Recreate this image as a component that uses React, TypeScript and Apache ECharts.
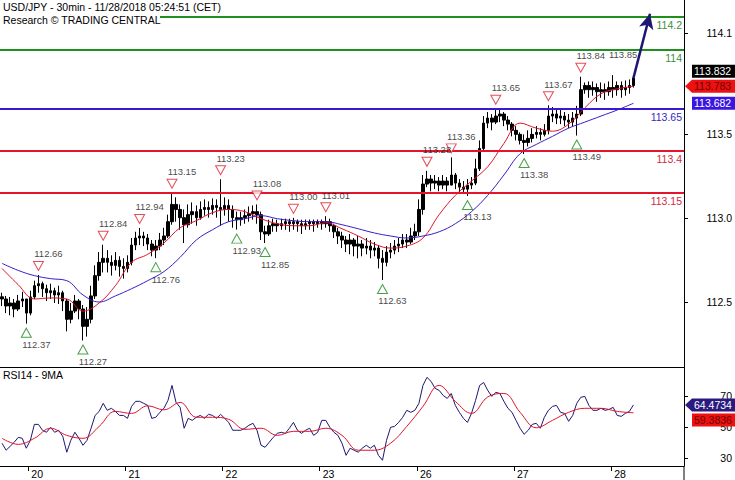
import React, { useEffect, useRef } from "react";
import * as echarts from "echarts";

const FONT = "'Liberation Sans', Arial, sans-serif";

// ---- hourly USD/JPY bars (index 0 = Nov 19, 17:00 CET) ----
const firstOpen = 112.53;
const closes = [
  112.517, 112.475, 112.493, 112.457, 112.505, 112.517, 112.433, 112.529, 112.596, 112.608,
  112.578, 112.554, 112.566, 112.541, 112.554, 112.505, 112.396, 112.445, 112.505, 112.457,
  112.354, 112.396, 112.535, 112.656, 112.735, 112.759, 112.735, 112.717, 112.747, 112.711,
  112.699, 112.735, 112.838, 112.880, 112.892, 112.880, 112.844, 112.808, 112.832, 112.868,
  112.892, 112.977, 113.080, 113.050, 113.001, 112.959, 113.019, 113.037, 113.001, 113.050,
  113.062, 113.050, 113.074, 113.062, 113.050, 113.074, 113.050, 113.001, 112.989, 113.001,
  113.013, 113.025, 113.037, 113.019, 112.917, 112.904, 112.953, 112.965, 112.953, 112.965,
  112.977, 112.965, 112.977, 112.965, 112.953, 112.965, 112.977, 112.965, 112.977, 112.965,
  112.977, 112.953, 112.917, 112.892, 112.868, 112.844, 112.868, 112.832, 112.844, 112.820,
  112.832, 112.808, 112.820, 112.759, 112.735, 112.796, 112.808, 112.832, 112.844, 112.868,
  112.856, 112.892, 112.917, 113.050, 113.201, 113.231, 113.207, 113.219, 113.195, 113.219,
  113.195, 113.255, 113.207, 113.183, 113.171, 113.195, 113.207, 113.292, 113.413, 113.564,
  113.594, 113.570, 113.606, 113.618, 113.582, 113.558, 113.521, 113.497, 113.461, 113.449,
  113.473, 113.497, 113.509, 113.497, 113.521, 113.606, 113.618, 113.594, 113.606, 113.582,
  113.570, 113.594, 113.618, 113.763, 113.788, 113.763, 113.776, 113.751, 113.763, 113.751,
  113.776, 113.763, 113.788, 113.763, 113.776, 113.788, 113.832,
];
const highs = [
  112.554, 112.535, 112.529, 112.517, 112.541, 112.560, 112.517, 112.566, 112.626, 112.660,
  112.620, 112.602, 112.608, 112.584, 112.596, 112.566, 112.517, 112.493, 112.541, 112.517,
  112.481, 112.469, 112.596, 112.717, 112.796, 112.840, 112.808, 112.777, 112.796, 112.771,
  112.759, 112.777, 112.880, 112.917, 112.940, 112.917, 112.904, 112.868, 112.868, 112.910,
  112.941, 113.019, 113.150, 113.122, 113.080, 113.050, 113.080, 113.092, 113.074, 113.098,
  113.110, 113.098, 113.116, 113.110, 113.230, 113.122, 113.110, 113.074, 113.037, 113.037,
  113.050, 113.068, 113.074, 113.080, 113.037, 112.953, 112.989, 112.995, 112.989, 112.995,
  112.995, 112.995, 113.000, 112.990, 112.989, 112.990, 112.990, 112.990, 112.990, 112.990,
  113.010, 112.995, 112.965, 112.941, 112.917, 112.892, 112.904, 112.880, 112.892, 112.868,
  112.880, 112.868, 112.856, 112.838, 112.808, 112.832, 112.850, 112.868, 112.880, 112.904,
  112.904, 112.941, 112.965, 113.110, 113.255, 113.280, 113.255, 113.255, 113.243, 113.255,
  113.243, 113.360, 113.267, 113.231, 113.219, 113.231, 113.243, 113.352, 113.461, 113.606,
  113.630, 113.618, 113.650, 113.645, 113.630, 113.606, 113.570, 113.546, 113.509, 113.497,
  113.521, 113.534, 113.546, 113.534, 113.558, 113.670, 113.660, 113.642, 113.642, 113.630,
  113.618, 113.630, 113.667, 113.840, 113.806, 113.812, 113.812, 113.800, 113.806, 113.800,
  113.812, 113.850, 113.812, 113.812, 113.818, 113.824, 113.840,
];
const lows = [
  112.475, 112.433, 112.420, 112.408, 112.445, 112.469, 112.370, 112.420, 112.517, 112.554,
  112.529, 112.505, 112.517, 112.493, 112.487, 112.445, 112.324, 112.372, 112.433, 112.396,
  112.270, 112.293, 112.372, 112.517, 112.626, 112.675, 112.675, 112.656, 112.687, 112.650,
  112.638, 112.675, 112.717, 112.808, 112.838, 112.832, 112.808, 112.771, 112.760, 112.808,
  112.838, 112.880, 112.959, 112.977, 112.929, 112.850, 112.941, 112.965, 112.953, 112.989,
  113.013, 113.001, 113.019, 113.001, 112.953, 113.013, 112.977, 112.941, 112.930, 112.953,
  112.965, 112.977, 112.989, 112.965, 112.868, 112.850, 112.892, 112.917, 112.917, 112.929,
  112.929, 112.917, 112.929, 112.917, 112.904, 112.929, 112.929, 112.917, 112.941, 112.929,
  112.941, 112.917, 112.880, 112.844, 112.820, 112.796, 112.783, 112.771, 112.759, 112.771,
  112.783, 112.759, 112.771, 112.699, 112.630, 112.711, 112.759, 112.783, 112.796, 112.820,
  112.820, 112.844, 112.868, 112.892, 113.019, 113.183, 113.158, 113.171, 113.158, 113.171,
  113.158, 113.195, 113.171, 113.146, 113.146, 113.130, 113.171, 113.195, 113.279, 113.400,
  113.534, 113.521, 113.558, 113.570, 113.546, 113.521, 113.485, 113.461, 113.437, 113.380,
  113.425, 113.449, 113.473, 113.461, 113.485, 113.497, 113.570, 113.558, 113.558, 113.546,
  113.534, 113.546, 113.490, 113.606, 113.739, 113.715, 113.727, 113.691, 113.715, 113.703,
  113.727, 113.715, 113.727, 113.715, 113.727, 113.739, 113.776,
];

// moving averages, one value every 4 bars
const maStep = 4;
const maFast = [
  112.699, 112.602, 112.517, 112.523, 112.517, 112.445, 112.493, 112.596, 112.735, 112.783,
  112.850, 112.941, 112.983, 113.031, 113.050, 113.037, 112.995, 112.965, 112.953, 112.953,
  112.971, 112.935, 112.892, 112.844, 112.820, 112.832, 112.880, 113.019, 113.134, 113.219,
  113.304, 113.443, 113.564, 113.534, 113.516, 113.558, 113.655, 113.739, 113.768, 113.783,
];
const maSlow = [
  112.729, 112.687, 112.656, 112.638, 112.626, 112.541, 112.499, 112.535, 112.578, 112.626,
  112.680, 112.765, 112.868, 112.929, 112.977, 112.995, 113.013, 112.995, 112.983, 112.977,
  112.977, 112.959, 112.935, 112.910, 112.892, 112.880, 112.892, 112.917, 112.965, 113.037,
  113.134, 113.255, 113.382, 113.437, 113.485, 113.534, 113.570, 113.606, 113.642, 113.682,
];

// RSI(14) per bar and its 9-period MA (every 4 bars)
const rsi = [
  39.7, 35.2, 37.7, 40.3, 43.5, 42.9, 36.5, 41.6, 51.9, 51.9,
  48.1, 46.8, 50.0, 46.8, 48.1, 44.2, 33.9, 41.6, 46.8, 42.9,
  38.4, 41.6, 49.4, 57.7, 60.3, 65.5, 61.0, 62.3, 60.3, 57.7,
  57.7, 55.8, 63.5, 66.8, 66.8, 65.5, 64.2, 55.8, 56.5, 59.7,
  62.3, 67.4, 77.1, 66.1, 62.9, 49.4, 55.8, 54.5, 56.5, 57.7,
  55.8, 58.4, 57.7, 55.8, 58.4, 55.8, 53.2, 48.1, 48.1, 48.1,
  49.4, 51.3, 52.6, 48.1, 38.4, 37.1, 40.3, 43.5, 46.1, 46.8,
  46.1, 49.4, 53.2, 48.1, 46.1, 48.1, 49.4, 44.8, 46.8, 54.5,
  54.5, 50.0, 46.8, 44.8, 39.7, 31.9, 36.5, 35.2, 33.9, 36.5,
  38.4, 36.5, 38.4, 31.9, 28.7, 41.6, 50.0, 50.6, 53.2, 56.5,
  61.0, 59.7, 61.0, 65.5, 77.1, 82.3, 79.7, 75.2, 73.9, 70.6,
  68.7, 71.9, 64.2, 59.7, 55.8, 53.2, 59.0, 67.4, 77.1, 79.0,
  73.9, 70.0, 72.6, 71.9, 66.8, 62.3, 59.7, 54.5, 49.4, 45.5,
  48.1, 51.9, 52.6, 49.4, 56.5, 61.0, 63.5, 64.2, 59.7, 59.0,
  53.9, 57.7, 65.5, 69.4, 70.0, 64.2, 61.0, 61.0, 62.3, 61.0,
  61.6, 62.9, 57.7, 57.1, 59.0, 60.3, 64.4734,
];
const rsiMa = [
  42.9, 39.0, 42.9, 49.4, 44.8, 42.9, 50.6, 60.3, 59.0, 63.9,
  61.3, 66.1, 56.5, 56.5, 55.2, 48.7, 49.4, 44.8, 47.4, 47.4,
  49.4, 44.8, 35.2, 35.2, 39.7, 50.6, 63.5, 77.1, 66.8, 59.0,
  69.6, 71.9, 59.7, 49.7, 54.5, 59.7, 62.3, 62.3, 60.3, 59.3836,
];

// zig-zag pivots
const pivotHighIdx = [9, 25, 34, 42, 54, 63, 72, 80, 105, 111, 122, 135, 143];
const pivotHighVal = [112.66, 112.84, 112.94, 113.15, 113.23, 113.08, 113.0, 113.01, 113.28, 113.36, 113.65, 113.67, 113.84];
const pendingHighIdx = 151;
const pendingHighVal = 113.85;
const pivotLowIdx = [6, 20, 38, 58, 65, 94, 115, 129, 142];
const pivotLowVal = [112.37, 112.27, 112.76, 112.93, 112.85, 112.63, 113.13, 113.38, 113.49];

// key levels
const levelValues = [114.2, 114.0, 113.65, 113.4, 113.15];
const levelTexts = ["114.2", "114", "113.65", "113.4", "113.15"];
const levelColors = ["#1f8f1f", "#1f8f1f", "#3a16d6", "#e3142b", "#e3142b"];
const levelTextColors = ["#3b8f3b", "#3b8f3b", "#3a2ac0", "#d22a3e", "#d22a3e"];

// projected path
const forecastFrom = [156, 113.832];
const forecastTo = [160.1, 114.215];

// axes
const dayTicks = [6.5, 30.5, 54.5, 78.5, 102.5, 126.5, 150.5];
const dayLabels = ["20", "21", "22", "23", "26", "27", "28"];
const priceTicks = [112.5, 113.0, 113.5, 114.1];
const rsiTicks = [30, 50, 70];

const lastPrice = 113.832;

export default function App() {
  const ref = useRef<HTMLDivElement>(null);

  useEffect(() => {
    if (!ref.current) return;
    const chart = echarts.init(ref.current, undefined, { renderer: "svg" });

    const candles = closes.map((c, i) => {
      const o = i === 0 ? firstOpen : closes[i - 1];
      return [i, o, c, Math.min(lows[i], o, c), Math.max(highs[i], o, c)];
    });

    const xBase: any = {
      type: "value",
      min: -0.5,
      max: 168.5,
      splitLine: { show: false },
      axisLine: { show: true, onZero: false, lineStyle: { color: "#000", width: 1 } },
    };

    const levelLines = levelValues.map((v, k) => ({
      yAxis: v,
      lineStyle: { color: levelColors[k], width: 2, type: "solid" },
      label: {
        show: true,
        formatter: levelTexts[k],
        position: "insideEndBottom",
        distance: [2, 3],
        color: levelTextColors[k],
        fontSize: 10.5,
        fontFamily: FONT,
      },
    }));

    const arrowLine = [
      { coord: forecastFrom, symbol: "none" },
      {
        coord: forecastTo,
        symbol: "arrow",
        symbolSize: [11, 15],
        lineStyle: { color: "#1e1670", width: 2.5, type: "solid" },
        label: { show: false },
      },
    ];

    const pivotLabel = (pos: string) => ({
      show: true,
      position: pos,
      distance: 2,
      offset: [10, 0],
      color: "#111",
      fontSize: 9.5,
      fontFamily: FONT,
      formatter: (p: any) => Number(p.value[1]).toFixed(2),
    });

    chart.setOption({
      animation: false,
      grid: [
        { left: 0, right: 51, top: 0, height: 367 },
        { left: 0, right: 51, top: 367, height: 99 },
      ],
      xAxis: [
        { ...xBase, gridIndex: 0, axisTick: { show: false }, axisLabel: { show: false } },
        {
          ...xBase,
          gridIndex: 1,
          axisTick: { show: true, customValues: dayTicks, length: 5, lineStyle: { color: "#000" } },
          axisLabel: {
            show: true,
            customValues: dayTicks,
            formatter: (v: number) => dayLabels[dayTicks.indexOf(v)] ?? "",
            align: "left",
            margin: 2,
            padding: [0, 0, 0, 3],
            color: "#000",
            fontSize: 10.5,
            fontFamily: FONT,
          },
        },
      ],
      yAxis: [
        {
          type: "value",
          gridIndex: 0,
          position: "right",
          min: 112.112,
          max: 114.297,
          splitLine: { show: false },
          axisLine: { show: true, onZero: false, lineStyle: { color: "#000" } },
          axisTick: { show: true, customValues: priceTicks, length: 4, lineStyle: { color: "#000" } },
          axisLabel: {
            customValues: priceTicks,
            formatter: (v: number) => v.toFixed(1),
            align: "right",
            margin: 48,
            color: "#000",
            fontSize: 10.5,
            fontFamily: FONT,
          },
        },
        {
          type: "value",
          gridIndex: 1,
          position: "right",
          min: 25,
          max: 89,
          splitLine: { show: false },
          axisLine: { show: true, onZero: false, lineStyle: { color: "#000" } },
          axisTick: { show: true, customValues: rsiTicks, length: 4, lineStyle: { color: "#000" } },
          axisLabel: {
            customValues: rsiTicks,
            formatter: (v: number) => String(v),
            align: "right",
            margin: 48,
            color: "#000",
            fontSize: 10.5,
            fontFamily: FONT,
          },
        },
      ],
      series: [
        {
          type: "candlestick",
          xAxisIndex: 0,
          yAxisIndex: 0,
          data: candles,
          barWidth: 3,
          silent: true,
          itemStyle: { color: "#000", color0: "#000", borderColor: "#000", borderColor0: "#000", borderWidth: 1 },
          markLine: {
            silent: true,
            symbol: ["none", "none"],
            animation: false,
            data: [...levelLines, arrowLine],
          },
          z: 2,
        },
        {
          type: "line",
          xAxisIndex: 0,
          yAxisIndex: 0,
          data: maFast.map((v, k) => [k * maStep, v]),
          smooth: 0.4,
          showSymbol: false,
          silent: true,
          lineStyle: { color: "#e0142c", width: 1 },
          z: 3,
        },
        {
          type: "line",
          xAxisIndex: 0,
          yAxisIndex: 0,
          data: maSlow.map((v, k) => [k * maStep, v]),
          smooth: 0.4,
          showSymbol: false,
          silent: true,
          lineStyle: { color: "#3a1ec8", width: 1 },
          z: 3,
        },
        {
          type: "scatter",
          xAxisIndex: 0,
          yAxisIndex: 0,
          silent: true,
          symbol: "path://M0,0L10,0L5,9Z",
          symbolSize: [10, 9],
          symbolOffset: [0, -9],
          itemStyle: { color: "#fff", borderColor: "#e0202e", borderWidth: 1 },
          label: pivotLabel("top"),
          data: [
            ...pivotHighIdx.map((x, k) => ({ value: [x, pivotHighVal[k]] })),
            {
              value: [pendingHighIdx, pendingHighVal],
              itemStyle: { color: "rgba(0,0,0,0)", borderColor: "rgba(0,0,0,0)" },
            },
          ],
          z: 5,
        },
        {
          type: "scatter",
          xAxisIndex: 0,
          yAxisIndex: 0,
          silent: true,
          symbol: "path://M5,0L10,9L0,9Z",
          symbolSize: [10, 9],
          symbolOffset: [0, 9],
          itemStyle: { color: "#fff", borderColor: "#1a8a1a", borderWidth: 1 },
          label: pivotLabel("bottom"),
          data: pivotLowIdx.map((x, k) => ({ value: [x, pivotLowVal[k]] })),
          z: 5,
        },
        {
          type: "line",
          xAxisIndex: 1,
          yAxisIndex: 1,
          data: rsi.map((v, i) => [i, v]),
          showSymbol: false,
          silent: true,
          lineStyle: { color: "#1e1670", width: 1 },
          z: 3,
        },
        {
          type: "line",
          xAxisIndex: 1,
          yAxisIndex: 1,
          data: rsiMa.map((v, k) => [k * maStep, v]),
          smooth: 0.4,
          showSymbol: false,
          silent: true,
          lineStyle: { color: "#e0142c", width: 1 },
          z: 4,
        },
      ],
    });

    // value tags on the right axes
    const py = (v: number, ai: number) => chart.convertToPixel({ yAxisIndex: ai } as any, v) as number;
    type Tag = { v: number; ai: number; text: string; bg: string; fg: string; arrow: boolean };
    const tagGroups: Tag[][] = [
      [
        { v: maFast[maFast.length - 1], ai: 0, text: maFast[maFast.length - 1].toFixed(3), bg: "#ee1111", fg: "#6e0000", arrow: true },
        { v: maSlow[maSlow.length - 1], ai: 0, text: maSlow[maSlow.length - 1].toFixed(3), bg: "#3a16e0", fg: "#ffffff", arrow: false },
        { v: lastPrice, ai: 0, text: lastPrice.toFixed(3), bg: "#000000", fg: "#ffffff", arrow: false },
      ],
      [
        { v: rsi[rsi.length - 1], ai: 1, text: rsi[rsi.length - 1].toFixed(4), bg: "#2a1a80", fg: "#ffffff", arrow: true },
        { v: rsiMa[rsiMa.length - 1], ai: 1, text: rsiMa[rsiMa.length - 1].toFixed(4), bg: "#ee1111", fg: "#6e0000", arrow: false },
      ],
    ];
    const ax = 684;
    const graphics: any[] = [];
    tagGroups.forEach((group) => {
      const placed: number[] = [];
      group.forEach((t) => {
        let y = py(t.v, t.ai);
        placed.forEach((p) => {
          if (Math.abs(y - p) < 14) y = y < p ? p - 15 : p + 15;
        });
        placed.push(y);
        const pts = t.arrow
          ? [[ax + 1, y], [ax + 8, y - 6.5], [735, y - 6.5], [735, y + 6.5], [ax + 8, y + 6.5]]
          : [[ax + 8, y - 6.5], [735, y - 6.5], [735, y + 6.5], [ax + 8, y + 6.5]];
        graphics.push({ type: "polygon", shape: { points: pts }, style: { fill: t.bg }, z: 50, silent: true });
        graphics.push({
          type: "text",
          x: ax + 10,
          y,
          z: 51,
          silent: true,
          style: { text: t.text, fill: t.fg, fontSize: 10.5, fontFamily: FONT, verticalAlign: "middle", align: "left" },
        });
      });
    });

    graphics.push(
      { type: "rect", shape: { x: 0, y: 0, width: 160, height: 26 }, style: { fill: "#fff" }, z: 60, silent: true },
      {
        type: "text",
        x: 3,
        y: 7,
        z: 61,
        silent: true,
        style: { text: "USD/JPY - 30min - 11/28/2018 05:24:51 (CET)", fill: "#000", fontSize: 10.5, fontFamily: FONT, verticalAlign: "middle" },
      },
      {
        type: "text",
        x: 3,
        y: 20,
        z: 61,
        silent: true,
        style: { text: "Research © TRADING CENTRAL", fill: "#000", fontSize: 10.5, fontFamily: FONT, verticalAlign: "middle" },
      },
      {
        type: "text",
        x: 3,
        y: 375,
        z: 61,
        silent: true,
        style: { text: "RSI14 - 9MA", fill: "#000", fontSize: 10.5, fontFamily: FONT, verticalAlign: "middle" },
      },
      { type: "line", shape: { x1: ax, y1: 466, x2: ax, y2: 480 }, style: { stroke: "#000", lineWidth: 1 }, z: 40, silent: true }
    );

    chart.setOption({ graphic: graphics });

    return () => chart.dispose();
  }, []);

  return <div ref={ref} style={{ position: "fixed", left: 0, top: 0, width: 735, height: 480, background: "#fff" }} />;
}
